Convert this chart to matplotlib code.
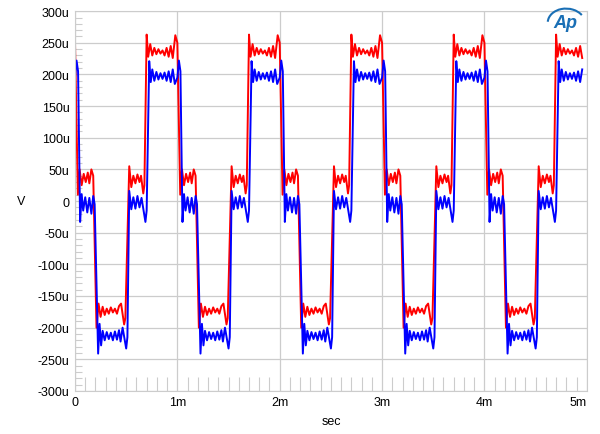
import matplotlib.pyplot as plt
import numpy as np
from matplotlib.patches import Arc

plt.rcParams.update(
    {
        "figure.dpi": 100,
        "font.family": ["Liberation Sans", "DejaVu Sans"],
        "font.size": 9,
    }
)

# One period of each trace (time in ms, level in uV)
red_t = [0.000, 0.028, 0.045, 0.065, 0.085, 0.105, 0.125, 0.140, 0.160, 0.178,
         0.210, 0.230, 0.250, 0.270, 0.290, 0.310, 0.330, 0.350, 0.370, 0.390,
         0.410, 0.430, 0.450, 0.480, 0.492, 0.530, 0.550, 0.570, 0.590, 0.610,
         0.630, 0.645, 0.667, 0.678, 0.700, 0.715, 0.735, 0.755, 0.775, 0.795,
         0.815, 0.835, 0.855, 0.875, 0.895, 0.915, 0.935, 0.955, 0.980]
red_v = [250, 10, 50, 25, 43, 30, 45, 28, 50, 40,
         -200, -162, -183, -167, -180, -170, -178, -168, -176, -170,
         -178, -166, -162, -195, -185, 55, 22, 40, 28, 42,
         30, 40, 12, 25, 263, 228, 248, 230, 242, 232,
         240, 233, 238, 230, 242, 228, 245, 226, 262]

blue_t = [0.000, 0.015, 0.030, 0.050, 0.065, 0.080, 0.100, 0.120, 0.140, 0.160,
          0.178, 0.192, 0.226, 0.240, 0.255, 0.270, 0.290, 0.310, 0.330, 0.350,
          0.370, 0.390, 0.410, 0.430, 0.445, 0.465, 0.500, 0.512, 0.530, 0.550,
          0.570, 0.590, 0.610, 0.630, 0.650, 0.688, 0.700, 0.725, 0.740, 0.755,
          0.775, 0.795, 0.815, 0.835, 0.855, 0.875, 0.895, 0.915, 0.935, 0.955,
          0.975]
blue_v = [195, 222, 205, -33, 11, -15, 6, -18, 5, -20,
          8, -5, -241, -194, -228, -205, -220, -207, -218, -208,
          -220, -206, -219, -204, -222, -200, -233, -215, 16, -13,
          6, -12, 8, -10, 5, -33, -15, 221, 188, 208,
          190, 204, 192, 202, 193, 203, 190, 205, 188, 208,
          185]

# the sweep stops before the last end-of-plateau spike
sweep_end = 4.96

n_periods = 5
x_ticks = [0, 1, 2, 3, 4, 5]
x_labels = ["0", "1m", "2m", "3m", "4m", "5m"]
y_ticks = list(range(-300, 301, 50))
y_labels = [("0" if v == 0 else f"{v}u") for v in y_ticks]


def tile(t, v):
    tt = np.concatenate([np.array(t) + k for k in range(n_periods)])
    vv = np.concatenate([np.array(v) for k in range(n_periods)])
    keep = tt <= sweep_end
    return tt[keep], vv[keep]


fig = plt.figure(figsize=(6, 4.35))
ax = fig.add_axes([0.125, 0.099, 0.853, 0.873])

rt, rv = tile(red_t, red_v)
bt, bv = tile(blue_t, blue_v)
ax.plot(rt, rv, color="#ff0000", linewidth=1.4)
ax.plot(bt, bv, color="#0000ff", linewidth=1.4)

ax.set_xlim(0, 5)
ax.set_ylim(-300, 300)
ax.set_xticks(x_ticks)
ax.set_xticklabels(x_labels)
ax.get_xticklabels()[-1].set_ha("right")
ax.set_yticks(y_ticks)
ax.set_yticklabels(y_labels)
ax.set_xticks(np.arange(0, 5.01, 0.1), minor=True)
ax.set_yticks(np.arange(-300, 301, 10), minor=True)

ax.grid(True, which="major", color="#cccccc", linewidth=0.9)
ax.set_axisbelow(True)
ax.tick_params(which="major", length=0, pad=4)
ax.tick_params(axis="x", which="minor", direction="in", length=10, color="#cccccc", width=0.8)
ax.tick_params(axis="y", which="minor", direction="in", length=5, color="#cccccc", width=0.8)
for s in ax.spines.values():
    s.set_color("#cccccc")

ax.set_xlabel("sec", labelpad=5)
ax.set_ylabel("V", rotation=0, labelpad=12, va="center")

# AP logo in the upper right corner
fig.text(0.942, 0.945, "Ap", color="#1a6fb5", fontsize=13, fontweight="bold",
         fontstyle="italic", ha="center", va="center")
fig.add_artist(Arc((0.944, 0.945), 0.062, 0.066, angle=10, theta1=25, theta2=165,
                   transform=fig.transFigure, color="#1a6fb5", linewidth=1.5))

fig.savefig("out.png")
